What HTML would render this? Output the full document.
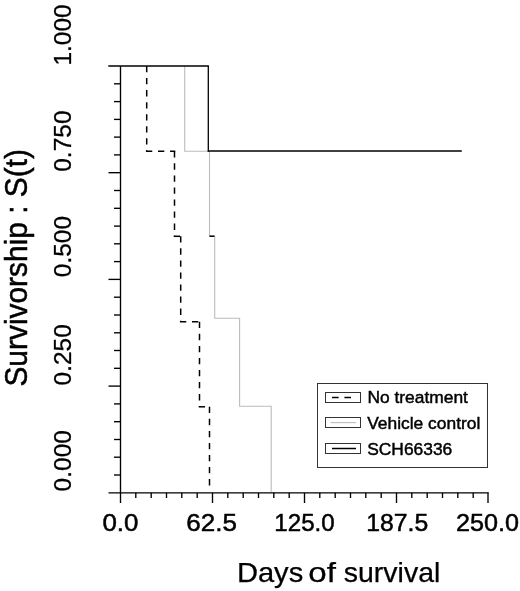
<!DOCTYPE html>
<html>
<head>
<meta charset="utf-8">
<title>Survivorship</title>
<style>
html,body{margin:0;padding:0;background:#fff;}
svg{display:block;}
text{font-family:"Liberation Sans",Arial,Helvetica,sans-serif;fill:#000;}
</style>
</head>
<body>
<svg width="520" height="591" viewBox="0 0 520 591">
<rect x="0" y="0" width="520" height="591" fill="#fff"/>

<!-- axes -->
<g stroke="#000" stroke-width="1.35" fill="none" stroke-linecap="butt">
  <line x1="120.5" y1="66" x2="120.5" y2="503"/>
  <line x1="108.5" y1="492.8" x2="488.7" y2="492.8"/>
  <!-- y major ticks -->
  <line x1="108.5" y1="172.7" x2="120.5" y2="172.7"/>
  <line x1="108.5" y1="279.4" x2="120.5" y2="279.4"/>
  <line x1="108.5" y1="386.1" x2="120.5" y2="386.1"/>
  <!-- y minor ticks -->
  <line x1="114" y1="83.8" x2="120.5" y2="83.8"/>
  <line x1="114" y1="101.6" x2="120.5" y2="101.6"/>
  <line x1="114" y1="119.4" x2="120.5" y2="119.4"/>
  <line x1="114" y1="137.1" x2="120.5" y2="137.1"/>
  <line x1="114" y1="154.9" x2="120.5" y2="154.9"/>
  <line x1="114" y1="190.5" x2="120.5" y2="190.5"/>
  <line x1="114" y1="208.3" x2="120.5" y2="208.3"/>
  <line x1="114" y1="226.1" x2="120.5" y2="226.1"/>
  <line x1="114" y1="243.8" x2="120.5" y2="243.8"/>
  <line x1="114" y1="261.6" x2="120.5" y2="261.6"/>
  <line x1="114" y1="297.2" x2="120.5" y2="297.2"/>
  <line x1="114" y1="315" x2="120.5" y2="315"/>
  <line x1="114" y1="332.8" x2="120.5" y2="332.8"/>
  <line x1="114" y1="350.5" x2="120.5" y2="350.5"/>
  <line x1="114" y1="368.3" x2="120.5" y2="368.3"/>
  <line x1="114" y1="403.9" x2="120.5" y2="403.9"/>
  <line x1="114" y1="421.7" x2="120.5" y2="421.7"/>
  <line x1="114" y1="439.5" x2="120.5" y2="439.5"/>
  <line x1="114" y1="457.2" x2="120.5" y2="457.2"/>
  <line x1="114" y1="475" x2="120.5" y2="475"/>
  <!-- x major ticks -->
  <line x1="212.5" y1="492.8" x2="212.5" y2="503"/>
  <line x1="304.5" y1="492.8" x2="304.5" y2="503"/>
  <line x1="396.5" y1="492.8" x2="396.5" y2="503"/>
  <line x1="488" y1="492.8" x2="488" y2="503"/>
  <!-- x minor ticks -->
  <line x1="135.8" y1="492.8" x2="135.8" y2="498"/>
  <line x1="151.2" y1="492.8" x2="151.2" y2="498"/>
  <line x1="166.5" y1="492.8" x2="166.5" y2="498"/>
  <line x1="181.8" y1="492.8" x2="181.8" y2="498"/>
  <line x1="197.2" y1="492.8" x2="197.2" y2="498"/>
  <line x1="227.8" y1="492.8" x2="227.8" y2="498"/>
  <line x1="243.2" y1="492.8" x2="243.2" y2="498"/>
  <line x1="258.5" y1="492.8" x2="258.5" y2="498"/>
  <line x1="273.8" y1="492.8" x2="273.8" y2="498"/>
  <line x1="289.2" y1="492.8" x2="289.2" y2="498"/>
  <line x1="319.8" y1="492.8" x2="319.8" y2="498"/>
  <line x1="335.2" y1="492.8" x2="335.2" y2="498"/>
  <line x1="350.5" y1="492.8" x2="350.5" y2="498"/>
  <line x1="365.8" y1="492.8" x2="365.8" y2="498"/>
  <line x1="381.2" y1="492.8" x2="381.2" y2="498"/>
  <line x1="411.8" y1="492.8" x2="411.8" y2="498"/>
  <line x1="427.2" y1="492.8" x2="427.2" y2="498"/>
  <line x1="442.5" y1="492.8" x2="442.5" y2="498"/>
  <line x1="457.8" y1="492.8" x2="457.8" y2="498"/>
  <line x1="473.2" y1="492.8" x2="473.2" y2="498"/>
</g>

<!-- vehicle control (grey) -->
<path d="M184.7 66 V151.3 H209.5 V236.2 H214.7 V318.2 H239.6 V406.2 H271.2 V492" fill="none" stroke="#bcbcbc" stroke-width="1.1"/>
<!-- small dark tick on grey curve -->
<line x1="209.5" y1="236.2" x2="214.5" y2="236.2" stroke="#000" stroke-width="1.5"/>

<!-- no treatment (dashed) -->
<g fill="none" stroke="#000" stroke-width="1.5" stroke-dasharray="6.3 5.75">
  <line x1="146.7" y1="66" x2="146.7" y2="151.3"/>
  <line x1="145.95" y1="151.3" x2="175.25" y2="151.3"/>
  <line x1="174.5" y1="151.3" x2="174.5" y2="236.3"/>
  <line x1="173.75" y1="236.3" x2="181.45" y2="236.3"/>
  <line x1="180.7" y1="236.3" x2="180.7" y2="321.8"/>
  <line x1="179.95" y1="321.8" x2="200.25" y2="321.8"/>
  <line x1="199.5" y1="321.8" x2="199.5" y2="406.8"/>
  <line x1="198.75" y1="406.8" x2="210.25" y2="406.8"/>
  <line x1="209.5" y1="406.8" x2="209.5" y2="490"/>
</g>

<!-- SCH66336 (solid) -->
<g fill="none" stroke="#000">
  <line x1="108.3" y1="66" x2="208.9" y2="66" stroke-width="1.45"/>
  <line x1="208.3" y1="66" x2="208.3" y2="151.5" stroke-width="1.3"/>
  <line x1="207.7" y1="151" x2="461.8" y2="151" stroke-width="1.7"/>
</g>

<!-- legend -->
<rect x="317.5" y="383.5" width="170" height="84" fill="#fff" stroke="#333" stroke-width="1"/>
<g fill="#fff" stroke="#333" stroke-width="1">
  <rect x="325.5" y="392.5" width="35" height="10"/>
  <rect x="325.5" y="417.5" width="35" height="10"/>
  <rect x="325.5" y="443.5" width="35" height="10"/>
</g>
<line x1="332" y1="397.5" x2="352" y2="397.5" stroke="#000" stroke-width="1.5" stroke-dasharray="6.6 5.8"/>
<line x1="330.5" y1="422.6" x2="356" y2="422.6" stroke="#bcbcbc" stroke-width="1.1"/>
<line x1="332" y1="448.5" x2="356" y2="448.5" stroke="#000" stroke-width="1.5"/>
<g font-size="17.4" stroke="#000" stroke-width="0.45">
  <text x="367.4" y="403.3">No treatment</text>
  <text x="367.2" y="429.3">Vehicle control</text>
  <text x="367.2" y="454.5">SCH66336</text>
</g>

<!-- y tick labels -->
<g font-size="24.5" stroke="#000" stroke-width="0.3">
  <text transform="translate(70.8 65.6) rotate(-90)">1.000</text>
  <text transform="translate(70.8 171.8) rotate(-90)">0.750</text>
  <text transform="translate(70.8 277.2) rotate(-90)">0.500</text>
  <text transform="translate(70.8 385.5) rotate(-90)">0.250</text>
  <text transform="translate(70.8 491.4) rotate(-90)">0.000</text>
</g>

<!-- y title -->
<text transform="translate(26.6 386.6) rotate(-90)" font-size="31" textLength="237.6" lengthAdjust="spacingAndGlyphs" stroke="#000" stroke-width="0.5">Survivorship : S(t)</text>

<!-- x tick labels -->
<g font-size="24.6" text-anchor="middle" stroke="#000" stroke-width="0.5">
  <text x="120.4" y="530.5" textLength="36" lengthAdjust="spacingAndGlyphs">0.0</text>
  <text x="211.6" y="530.5" textLength="50.7" lengthAdjust="spacingAndGlyphs">62.5</text>
  <text x="304.5" y="530.5" textLength="60.3" lengthAdjust="spacingAndGlyphs">125.0</text>
  <text x="397.2" y="530.5" textLength="62" lengthAdjust="spacingAndGlyphs">187.5</text>
  <text x="487.5" y="530.5" textLength="63" lengthAdjust="spacingAndGlyphs">250.0</text>
</g>

<!-- x title -->
<g font-size="27.4" stroke="#000" stroke-width="0.25">
  <text x="236.9" y="582.3" textLength="66.3" lengthAdjust="spacingAndGlyphs">Days</text>
  <text x="308.3" y="582.3" textLength="27.6" lengthAdjust="spacingAndGlyphs">of</text>
  <text x="343.8" y="582.3" textLength="96.5" lengthAdjust="spacingAndGlyphs">survival</text>
</g>
</svg>
</body>
</html>
